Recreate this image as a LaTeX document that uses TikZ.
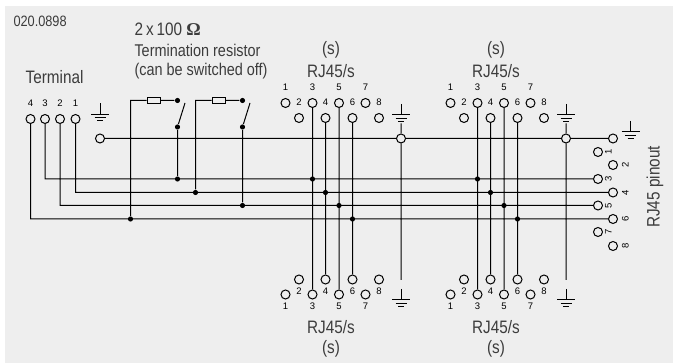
\documentclass[tikz,border=0pt]{standalone}
\usepackage{fontspec}
\setsansfont[FakeStretch=0.85]{Liberation Sans}
\newfontfamily\pinfont{Liberation Sans}
\newfontfamily\ohmfont[BoldFont={Liberation Serif Bold}]{Liberation Serif}
\usetikzlibrary{positioning}
\definecolor{panelgray}{HTML}{EEEEEE}
\definecolor{textgray}{HTML}{3C3C3C}

\begin{document}
\begin{tikzpicture}[
					%Environment config
					font=\sffamily,
					x=1pt,y=-1pt,
					line width=1pt,
					%Environment styles
					PinCfg/.style={
						circle,
						draw,
						inner sep=0pt,
						minimum size=9pt
					},
					PinTop/.style={
						PinCfg,
						label={[yshift=7pt]above:#1}
					},
					PinLow/.style={
						PinCfg,
						label={[yshift=-3pt]below:#1}
					},
					PinOdd/.style={
						PinCfg,
						label={[xshift=1.5pt,SideTxt]right:#1}
					},
					PinEven/.style={
						PinCfg,
						label={[xshift=3.6pt,SideTxt]right:#1}
					},
					DotCfg/.style={
						circle,
						fill=black,
						inner sep=0pt,
						minimum size=5.2pt
					},
					ResCfg/.style={
						rectangle,
						draw,
						inner sep=0pt,
						minimum width=13pt,
						minimum height=6.5pt
					},
					TxtCfg/.style={
						text=textgray,
						inner sep=0pt,
						font=\sffamily\fontsize{18}{18}\selectfont
					},
					ResTxtCfg/.style={
						TxtCfg,
						anchor=west,
						font=\sffamily\fontsize{17}{17}\selectfont
					},
					every label/.style={
						text=black,
						inner sep=0pt,
						font=\pinfont\fontsize{9.5}{9.5}\selectfont
					},
					SideTxt/.style={
						rotate=90,
						anchor=north
					},
					GndPic/.pic={
						\draw (0,-11) -- (0,0) (-9,0) -- (9,0);
						\draw (-5.5,3.4) -- (5.5,3.4);
						\draw (-3,6.2) -- (3,6.2);
					}
					]
					\useasboundingbox (0,0) rectangle (673,363);
					\fill[panelgray] (5,6) rectangle (673,363);

					%Texts
					\path
					(13,21) node[TxtCfg,anchor=west,font=\sffamily\fontsize{15}{15}\selectfont](DocNo){020.0898}
					(134,29) node[TxtCfg,anchor=west](ResVal){2\,x\,100 {\ohmfont\bfseries Ω}}
					(134,50) node[ResTxtCfg](ResTxt1){Termination resistor}
					(134,71) node[ResTxtCfg](ResTxt2){(can be switched off)}
					(54.5,77) node[TxtCfg](TermTxt){Terminal}
					(331,50) node[TxtCfg](SA){(s)}
					(331,71) node[TxtCfg](RJA){RJ45/s}
					(496,50) node[TxtCfg](SB){(s)}
					(496,71) node[TxtCfg](RJB){RJ45/s}
					(331,327) node[TxtCfg](RJC){RJ45/s}
					(331,349) node[TxtCfg](SC){(s)}
					(496,327) node[TxtCfg](RJD){RJ45/s}
					(496,349) node[TxtCfg](SD){(s)}
					(655,187) node[TxtCfg,rotate=90](PinoutTxt){RJ45 pinout};

					%Terminal
					\path
					(30.5,119) node[PinTop=4](T4){}
					++ (14.5,0) node[PinTop=3](T3){}
					++ (15,0) node[PinTop=2](T2){}
					++ (15.5,0) node[PinTop=1](T1){}
					(100,138.5) node[PinCfg](T0){};

					%Upper RJ45 sockets
					\path
					(285.5,103) node[PinTop=1](A1){}
					++ (27,0) node[PinTop=3](A3){}
					++ (26.5,0) node[PinTop=5](A5){}
					++ (26.5,0) node[PinTop=7](A7){}
					(299,118) node[PinTop=2](A2){}
					++ (26.5,0) node[PinTop=4](A4){}
					++ (27,0) node[PinTop=6](A6){}
					++ (26.5,0) node[PinTop=8](A8){}
					(450.5,103) node[PinTop=1](B1){}
					++ (27,0) node[PinTop=3](B3){}
					++ (26.5,0) node[PinTop=5](B5){}
					++ (26.5,0) node[PinTop=7](B7){}
					(464,118) node[PinTop=2](B2){}
					++ (26.5,0) node[PinTop=4](B4){}
					++ (27,0) node[PinTop=6](B6){}
					++ (26.5,0) node[PinTop=8](B8){};

					%Lower RJ45 sockets
					\path
					(285.5,294.5) node[PinLow=1](C1){}
					++ (27,0) node[PinLow=3](C3){}
					++ (26.5,0) node[PinLow=5](C5){}
					++ (26.5,0) node[PinLow=7](C7){}
					(299,279.5) node[PinLow=2](C2){}
					++ (26.5,0) node[PinLow=4](C4){}
					++ (27,0) node[PinLow=6](C6){}
					++ (26.5,0) node[PinLow=8](C8){}
					(450.5,294.5) node[PinLow=1](D1){}
					++ (27,0) node[PinLow=3](D3){}
					++ (26.5,0) node[PinLow=5](D5){}
					++ (26.5,0) node[PinLow=7](D7){}
					(464,279.5) node[PinLow=2](D2){}
					++ (26.5,0) node[PinLow=4](D4){}
					++ (27,0) node[PinLow=6](D6){}
					++ (26.5,0) node[PinLow=8](D8){};

					%Pinout
					\path
					(613,138.5) node[PinCfg](P0){}
					(598,152) node[PinOdd=1](P1){}
					(613,165) node[PinEven=2](P2){}
					(598,179) node[PinOdd=3](P3){}
					(613,192.5) node[PinEven=4](P4){}
					(598,205.5) node[PinOdd=5](P5){}
					(613,219) node[PinEven=6](P6){}
					(598,232) node[PinOdd=7](P7){}
					(613,246) node[PinEven=8](P8){};

					%Shield points
					\path
					(401,138.5) node[PinCfg](GA){}
					(566,138.5) node[PinCfg](GB){}
					(401,123.5) coordinate (GAtop)
					(566,123.5) coordinate (GBtop)
					(401,280) coordinate (GAend)
					(566,280) coordinate (GBend);
					\path
					(100,114.5) pic{GndPic}
					(401,115) pic{GndPic}
					(566,115) pic{GndPic}
					(401,300) pic{GndPic}
					(566,300) pic{GndPic}
					(630.5,132) pic{GndPic};

					%Termination resistors
					\path
					(153.5,100.5) node[ResCfg](R1){}
					(218.5,100.5) node[ResCfg](R2){}
					(177.5,100.5) node[DotCfg](R1b){}
					(242.5,100.5) node[DotCfg](R2b){}
					(177.5,127) node[DotCfg](R1c){}
					(242.5,127) node[DotCfg](R2c){}
					(185,103) coordinate (S1)
					(250,103) coordinate (S2)
					(R1c |- P3) node[DotCfg](R1d){}
					(R2c |- P5) node[DotCfg](R2d){}
					(130.5,219) node[DotCfg](R1a){}
					(195.5,192.5) node[DotCfg](R2a){};

					%Junctions
					\path
					(A3 |- P3) node[DotCfg](JA3){}
					(A4 |- P4) node[DotCfg](JA4){}
					(A5 |- P5) node[DotCfg](JA5){}
					(A6 |- P6) node[DotCfg](JA6){}
					(B3 |- P3) node[DotCfg](JB3){}
					(B4 |- P4) node[DotCfg](JB4){}
					(B5 |- P5) node[DotCfg](JB5){}
					(B6 |- P6) node[DotCfg](JB6){};

					\draw
					(T0) -- (GA) -- (GB) -- (P0)
					(T4) |- (P6)
					(T3) |- (P3)
					(T2) |- (P5)
					(T1) |- (P4)
					(R1a) |- (R1)
					(R2a) |- (R2)
					(R1) -- (R1b)
					(R2) -- (R2b)
					(R1c) -- (S1)
					(R2c) -- (S2)
					(R1c) -- (R1d)
					(R2c) -- (R2d)
					(A3) -- (C3)
					(A4) -- (C4)
					(A5) -- (C5)
					(A6) -- (C6)
					(B3) -- (D3)
					(B4) -- (D4)
					(B5) -- (D5)
					(B6) -- (D6)
					(GAtop) -- (GA) -- (GAend)
					(GBtop) -- (GB) -- (GBend);
				\end{tikzpicture}
\end{document}
